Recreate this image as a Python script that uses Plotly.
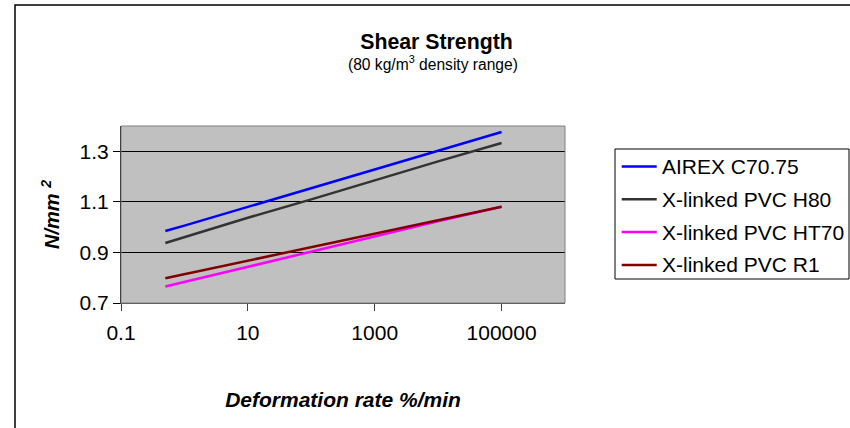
import plotly.graph_objects as go

# Data
rate = [0.5, 1, 10, 100, 1000, 10000, 100000]
airex_c7075 = [0.985, 1.006, 1.080, 1.155, 1.228, 1.302, 1.376]
pvc_h80 = [0.937, 0.960, 1.037, 1.110, 1.186, 1.260, 1.333]
pvc_ht70 = [0.765, 0.783, 0.845, 0.905, 0.964, 1.023, 1.081]
pvc_r1 = [0.798, 0.814, 0.867, 0.921, 0.974, 1.028, 1.081]

series_names = ["AIREX C70.75", "X-linked PVC H80", "X-linked PVC HT70", "X-linked PVC R1"]
series_values = [airex_c7075, pvc_h80, pvc_ht70, pvc_r1]
series_colors = ["#0000FF", "#333333", "#FF00FF", "#800000"]

x_tickvals = [0.1, 10, 1000, 100000]
x_ticktext = ["0.1", "10", "1000", "100000"]
y_tickvals = [0.7, 0.9, 1.1, 1.3]
y_ticktext = ["0.7", "0.9", "1.1", "1.3"]

FONT = "Liberation Sans, Arial, sans-serif"

W, H = 850, 428
ML, MR, MT, MB = 121, 285, 126, 125
PW, PH = W - ML - MR, H - MT - MB


def px_x(x):
    return (x - ML) / PW


def px_y(y):
    return (H - MB - y) / PH


fig = go.Figure()
for name, vals, col in zip(series_names, series_values, series_colors):
    fig.add_trace(go.Scatter(
        x=rate, y=vals, mode="lines", name=name,
        line=dict(color=col, width=2.5),
        showlegend=False,
    ))

shapes = [
    # plot area border
    dict(type="rect", xref="paper", yref="paper", x0=0, y0=0, x1=1, y1=1,
         line=dict(color="#808080", width=1), layer="above"),
    # chart area border
    dict(type="rect", xref="paper", yref="paper", x0=px_x(15), y0=px_y(445), x1=px_x(870), y1=px_y(5),
         line=dict(color="black", width=1.5), layer="above"),
    # legend box
    dict(type="rect", xref="paper", yref="paper", x0=px_x(615), y0=px_y(279), x1=px_x(849), y1=px_y(149),
         line=dict(color="black", width=1), fillcolor="white", layer="above"),
]

annotations = [
    dict(text="(80 kg/m<sup>3</sup> density range)", xref="paper", yref="paper", x=px_x(433), y=px_y(63.3),
         xanchor="center", yanchor="middle", showarrow=False,
         font=dict(family=FONT, size=15.6, color="black")),
]

# legend entries (line sample + label)
for i, (name, col) in enumerate(zip(series_names, series_colors)):
    yc = 166.5 + 32.8 * i
    shapes.append(dict(type="line", xref="paper", yref="paper",
                       x0=px_x(621.7), x1=px_x(656.7), y0=px_y(yc), y1=px_y(yc),
                       line=dict(color=col, width=2.5), layer="above"))
    annotations.append(dict(text=name, xref="paper", yref="paper", x=px_x(661), y=px_y(yc),
                            xanchor="left", yanchor="middle", showarrow=False, borderpad=0,
                            font=dict(family=FONT, size=21, color="black")))

fig.update_layout(
    width=W, height=H,
    margin=dict(l=ML, r=MR, t=MT, b=MB, pad=0),
    paper_bgcolor="white",
    plot_bgcolor="#C0C0C0",
    font=dict(family=FONT, size=21, color="black"),
    showlegend=False,
    title=dict(
        text="<b>Shear Strength</b>",
        xref="container", yref="container",
        x=436.5 / W, y=1 - 41.7 / H, xanchor="center", yanchor="middle",
        font=dict(family=FONT, size=21.3, color="black"),
    ),
    xaxis=dict(
        type="log", range=[-1, 6],
        tickvals=x_tickvals, ticktext=x_ticktext,
        showgrid=False, zeroline=False,
        ticks="outside", ticklen=7, tickcolor="#404040", tickwidth=1,
        showline=True, linecolor="#404040", linewidth=1,
        ticklabelstandoff=4,
        tickfont=dict(family=FONT, size=21, color="black"),
        title=dict(text="<b><i>Deformation rate %/min</i></b>", standoff=49,
                   font=dict(family=FONT, size=21, color="black")),
    ),
    yaxis=dict(
        range=[0.7, 1.4],
        tickvals=y_tickvals, ticktext=y_ticktext,
        showgrid=True, gridcolor="black", gridwidth=1,
        zeroline=False,
        ticks="outside", ticklen=7, tickcolor="black", tickwidth=1,
        showline=True, linecolor="black", linewidth=1,
        tickfont=dict(family=FONT, size=21, color="black"),
        title=dict(text="<b><i>N/mm <sup>2</sup></i></b>", standoff=14,
                   font=dict(family=FONT, size=20, color="black")),
    ),
    shapes=shapes,
    annotations=annotations,
)

fig.write_html(
    "out.html",
    config={"displayModeBar": False},
    post_script="document.body.style.margin='0';document.body.style.overflow='hidden';",
)
